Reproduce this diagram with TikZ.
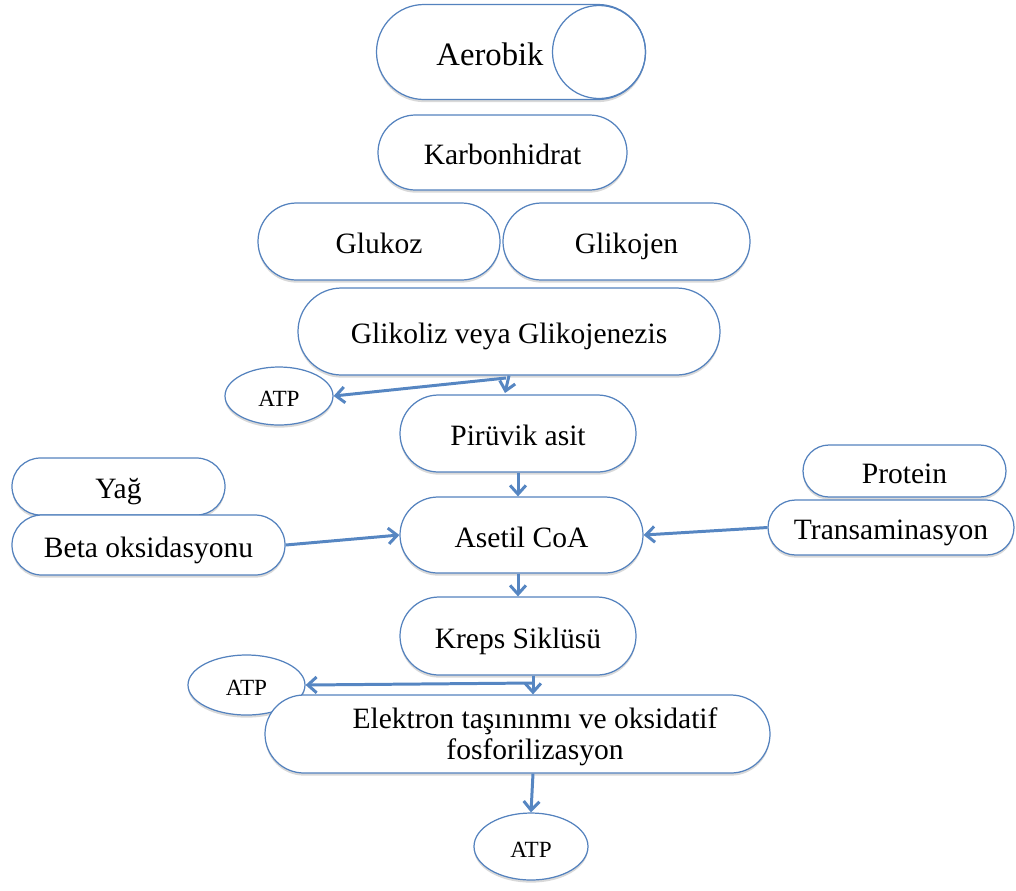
\documentclass[tikz,border=0pt]{standalone}
\usepackage{fontspec}
\setmainfont{Liberation Serif}
\usetikzlibrary{shapes.misc,shapes.geometric,arrows.meta,shadows}
\definecolor{boxblue}{RGB}{84,130,190}
\definecolor{arrowblue}{RGB}{86,134,194}
\tikzset{
  box/.style={rounded rectangle, draw=boxblue, line width=0.7pt, fill=white, inner sep=0pt,
    drop shadow={shadow xshift=0pt, shadow yshift=-1.5pt, opacity=0.3},
    font=\fontsize{16.8}{21.5}\selectfont, align=center},
  oneline/.style={text height=17pt, text depth=3pt},
  atp/.style={ellipse, draw=boxblue, line width=0.7pt, fill=white, inner sep=0pt,
    drop shadow={shadow xshift=0pt, shadow yshift=-1.5pt, opacity=0.3},
    font=\fontsize{13.2}{15}\selectfont, text height=14pt, text depth=2pt},
  flow/.style={draw=arrowblue, line width=1.7pt, -{Straight Barb[length=5pt,width=9pt]}}
}
\begin{document}
\begin{tikzpicture}
    \useasboundingbox (0,0) rectangle (20.32,-17.8);
    %% top
    \node[box, minimum width=5.38cm, minimum height=1.9cm] (aerobik) at (10.22,-1.04) {};
    \node[circle, draw=boxblue, line width=0.7pt, minimum size=1.86cm, inner sep=0pt] (aerobikcirc) at (11.98,-1.04) {};
    \node[font=\fontsize{18.6}{22}\selectfont, anchor=base] (aerobiktext) at (9.8,-1.3) {Aerobik};
    \node[box, oneline, minimum width=4.98cm, minimum height=1.5cm] (karb) at (10.05,-3.05) {Karbonhidrat};
    \node[box, oneline, minimum width=4.84cm, minimum height=1.54cm] (glukoz) at (7.58,-4.83) {Glukoz};
    \node[box, oneline, minimum width=4.94cm, minimum height=1.54cm] (glikojen) at (12.53,-4.83) {Glikojen};
    \node[box, oneline, minimum width=8.44cm, minimum height=1.74cm] (glikoliz) at (10.18,-6.63) {Glikoliz veya Glikojenezis};
    \node[atp, minimum width=2.16cm, minimum height=1.16cm] (atpa) at (5.58,-7.92) {ATP};
    %% middle
    \node[box, oneline, minimum width=4.72cm, minimum height=1.54cm] (piruvik) at (10.36,-8.67) {Pirüvik asit};
    \node[box, oneline, minimum width=4.26cm, minimum height=1.14cm] (yag) at (2.37,-9.73) {Yağ};
    \node[box, oneline, minimum width=5.46cm, minimum height=1.2cm] (beta) at (2.97,-10.9) {Beta oksidasyonu};
    \node[box, oneline, minimum width=4.86cm, minimum height=1.52cm] (asetil) at (10.43,-10.7) {Asetil CoA};
    \node[box, oneline, minimum width=4.06cm, minimum height=1.04cm] (protein) at (18.09,-9.42) {Protein};
    \node[box, oneline, minimum width=4.92cm, minimum height=1.1cm] (trans) at (17.82,-10.55) {Transaminasyon};
    %% bottom
    \node[box, oneline, minimum width=4.72cm, minimum height=1.56cm] (kreps) at (10.36,-12.72) {Kreps Siklüsü};
    \node[atp, minimum width=2.34cm, minimum height=1.2cm] (atpb) at (4.93,-13.7) {ATP};
    \node[box, minimum width=10.1cm, minimum height=1.56cm] (elektron) at (10.35,-14.68) {};
    \node[font=\fontsize{16.8}{17.5}\selectfont, align=center, inner sep=0pt] (elektrontext) at (10.7,-14.73) {Elektron taşınınmı ve oksidatif\\fosforilizasyon};
    \node[atp, minimum width=2.28cm, minimum height=1.34cm] (atpc) at (10.62,-16.93) {ATP};
    %% connectors
    \coordinate (ga) at (10.1,-7.86);
    \coordinate (gb) at (10.12,-7.56);
    \coordinate (ka) at (10.66,-13.66);
    \draw[flow] (glikoliz.south) -- (ga);
    \draw[flow] (gb) -- (atpa.east);
    \draw[flow] (piruvik.south) -- (asetil.north -| piruvik.south);
    \draw[flow] (beta.east) -- (asetil.west);
    \draw[flow] (trans.west) -- (asetil.east);
    \draw[flow] (asetil.south -| piruvik.south) -- (kreps.north);
    \draw[flow] (kreps.south -| ka) -- (elektron.north -| ka);
    \draw[flow] (ka) -- (atpb.east);
    \draw[flow] (elektron.south -| ka) -- (atpc.north);
\end{tikzpicture}
\end{document}
